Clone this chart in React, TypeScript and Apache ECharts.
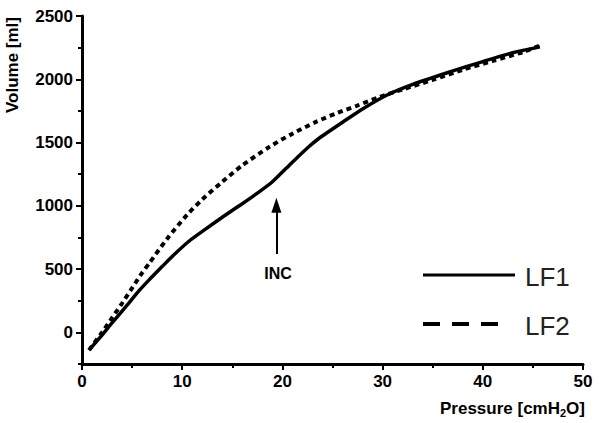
import React, { useEffect, useRef } from "react";
import * as echarts from "echarts";

const pressureLF1 = [0.7, 2, 3, 4.5, 5.7, 6.7, 8, 9, 10.7, 12.4, 14, 15.7, 17.5, 19, 21, 22.6, 23.6, 24.6, 26, 28, 30.4, 33, 36.7, 40, 43, 45.7];
const volumeLF1 = [-140, -22, 75, 215, 330, 415, 520, 600, 722, 820, 910, 1000, 1100, 1190, 1345, 1465, 1530, 1585, 1660, 1765, 1874, 1960, 2058, 2140, 2210, 2256];

const pressureLF2 = [0.7, 2, 3, 4, 5, 6, 6.7, 8.5, 10.5, 12, 14, 16, 18.7, 21, 23.4, 25.5, 27.4, 29.7, 32, 35, 38, 41, 44, 45.8];
const volumeLF2 = [-140, 0, 115, 230, 350, 470, 545, 740, 930, 1050, 1190, 1320, 1466, 1570, 1665, 1735, 1790, 1860, 1920, 1995, 2075, 2145, 2215, 2270];

const yLabelValues = [0, 500, 1000, 1500, 2000, 2500];
const seriesNames = ["LF1", "LF2"];
const arrowPressure = 19.4;
const arrowFrom = 620;
const arrowTo = 1005;

const FONT = "'Liberation Sans', Arial, sans-serif";

export default function App() {
  const ref = useRef<HTMLDivElement>(null);
  useEffect(() => {
    if (!ref.current) return;
    const chart = echarts.init(ref.current, undefined, { renderer: "svg" });
    const lf1 = pressureLF1.map((p, i) => [p, volumeLF1[i]]);
    const lf2 = pressureLF2.map((p, i) => [p, volumeLF2[i]]);
    const labelStyle = { color: "#000", fontSize: 17, fontWeight: "bold" as const, fontFamily: FONT };
    chart.setOption({
      animation: false,
      backgroundColor: "#fff",
      grid: { left: 82, right: 17, top: 16, bottom: 59, containLabel: false },
      xAxis: {
        type: "value",
        min: 0,
        max: 50,
        interval: 10,
        axisLine: { show: true, onZero: false, lineStyle: { color: "#000", width: 3 } },
        axisTick: { show: true, length: 6, lineStyle: { color: "#000", width: 2 } },
        minorTick: { show: true, splitNumber: 2, length: 4, lineStyle: { color: "#000", width: 2 } },
        axisLabel: { ...labelStyle, margin: 9, formatter: (v: number) => String(v) },
        splitLine: { show: false },
      },
      yAxis: [
        {
          type: "value",
          min: -250,
          max: 2500,
          axisLine: { show: true, onZero: false, lineStyle: { color: "#000", width: 3 } },
          axisTick: { show: true, length: 6, customValues: yLabelValues, lineStyle: { color: "#000", width: 2 } },
          axisLabel: { ...labelStyle, margin: 9, customValues: yLabelValues, formatter: (v: number) => String(v) },
          splitLine: { show: false },
        },
        {
          type: "value",
          min: -250,
          max: 2500,
          interval: 250,
          position: "left",
          axisLine: { show: false, onZero: false },
          axisTick: { show: true, length: 4, lineStyle: { color: "#000", width: 2 } },
          axisLabel: { show: false },
          splitLine: { show: false },
        },
      ],
      series: [
        {
          name: seriesNames[0],
          type: "line",
          data: lf1,
          showSymbol: false,
          smooth: 0.25,
          lineStyle: { color: "#000", width: 3.5 },
          z: 3,
          markLine: {
            silent: true,
            symbol: ["none", "triangle"],
            symbolSize: [10, 15],
            label: { show: false },
            lineStyle: { color: "#000", width: 2, type: "solid" },
            data: [
              [
                { coord: [arrowPressure, arrowFrom] },
                { coord: [arrowPressure, arrowTo] },
              ],
            ],
          },
        },
        {
          name: seriesNames[1],
          type: "line",
          data: lf2,
          showSymbol: false,
          smooth: 0.25,
          lineStyle: { color: "#000", width: 4, type: [5, 4] },
          z: 2,
        },
      ],
      graphic: [
        {
          type: "text",
          x: 12,
          y: 65,
          rotation: Math.PI / 2,
          style: {
            text: "Volume [ml]",
            fill: "#000",
            font: `bold 17px ${FONT}`,
            align: "center",
            verticalAlign: "middle",
          },
        },
        {
          type: "text",
          x: 585,
          y: 408,
          style: {
            text: "{a|Pressure [cmH}{b|2}{a|O]}",
            align: "right",
            verticalAlign: "middle",
            rich: {
              a: { fontSize: 17, fontWeight: "bold", fontFamily: FONT, fill: "#000", lineHeight: 20, verticalAlign: "middle" },
              b: { fontSize: 11, fontWeight: "bold", fontFamily: FONT, fill: "#000", verticalAlign: "bottom", lineHeight: 20, padding: [10, 0, 0, 0] },
            },
          },
        },
        {
          type: "text",
          x: 278,
          y: 273,
          style: {
            text: "INC",
            fill: "#000",
            font: `bold 16px ${FONT}`,
            align: "center",
            verticalAlign: "middle",
          },
        },
        {
          type: "line",
          shape: { x1: 423, y1: 275, x2: 515, y2: 275 },
          style: { stroke: "#000", lineWidth: 3 },
        },
        {
          type: "line",
          shape: { x1: 423, y1: 324, x2: 506, y2: 324 },
          style: { stroke: "#000", lineWidth: 4, lineDash: [17, 12] },
        },
        {
          type: "text",
          x: 525,
          y: 277,
          style: { text: seriesNames[0], fill: "#222", font: `26px ${FONT}`, verticalAlign: "middle" },
        },
        {
          type: "text",
          x: 525,
          y: 326,
          style: { text: seriesNames[1], fill: "#222", font: `26px ${FONT}`, verticalAlign: "middle" },
        },
      ],
    });
    return () => chart.dispose();
  }, []);
  return <div ref={ref} style={{ position: "fixed", left: 0, top: 0, width: 600, height: 423 }} />;
}
